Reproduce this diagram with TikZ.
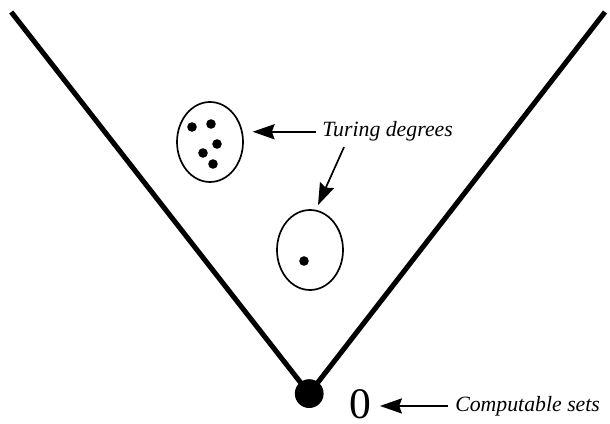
\documentclass[tikz,border=0pt]{standalone}
\usepackage{fontspec}
\setmainfont{Liberation Serif}
\usepackage{tikz}
\usetikzlibrary{shapes.geometric,arrows.meta,positioning,calc}

\begin{document}
\begin{tikzpicture}[
    wall/.style={line width=3.6pt, line join=miter},
    degree/.style={ellipse, draw, line width=1.2pt, minimum width=1.65cm, minimum height=2cm, inner sep=0pt},
    member/.style={circle, fill, minimum size=0.24cm, inner sep=0pt},
    origin/.style={circle, fill, minimum size=0.72cm, inner sep=0pt},
    lbl/.style={font=\fontsize{15.5}{15.5}\selectfont\itshape, inner sep=0pt},
    pointer/.style={-{Stealth[length=0.55cm, width=0.38cm, inset=0.07cm]}, line width=1.2pt}
]
    \useasboundingbox (0,0) rectangle (15.25,10.6);
    % cone
    \coordinate (lt) at (0.28,10.3);
    \coordinate (rt) at (15.125,10.3);
    \node[origin] (bot) at (7.73,0.76) {};
    \draw[wall] (lt) -- (bot.center) -- (rt);

    % degree with several members
    \node[degree] (deg1) at (5.25,7.05) {};
    \node[member] (m1) at (4.8,7.425) {};
    \node[member] (m2) at (5.275,7.5) {};
    \node[member] (m3) at (5.425,7.0) {};
    \node[member] (m4) at (5.075,6.775) {};
    \node[member] (m5) at (5.325,6.5) {};

    % degree with one member
    \node[degree] (deg2) at (7.75,4.35) {};
    \node[member] (m6) at (7.6,4.075) {};

    % labels
    \node[lbl, anchor=base west] (td) at (8.05,7.175) {Turing degrees};
    \draw[pointer, shorten <=0.15cm, shorten >=0.22cm] (td.west) -- (deg1.east |- td.west);
    \draw[pointer] ($(td.south west)+(0.55,-0.13)$) -- ($(deg2.north)+(0.2,0.1)$);

    \node[font=\fontsize{31}{31}\selectfont, inner sep=0pt] (zero) at (9.0,0.5) {0};
    \node[lbl, anchor=base west] (cs) at (11.375,0.32) {Computable sets};
    \draw[pointer, shorten <=0.17cm, shorten >=0.22cm] (cs.west) -- (zero.east |- cs.west);
\end{tikzpicture}
\end{document}
